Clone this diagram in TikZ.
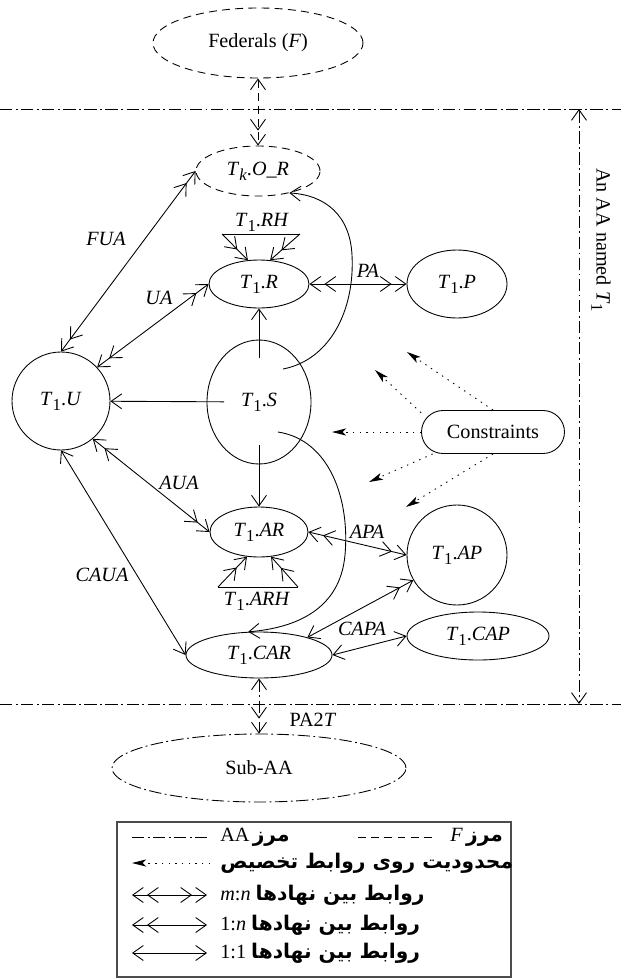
\documentclass[tikz,border=0pt]{standalone}
\usepackage{fontspec}
\setmainfont{Liberation Serif}
\newfontfamily\prs[Script=Arabic,Scale=1.0]{DejaVu Sans}
\TeXXeTstate=1
\usetikzlibrary{arrows.meta,shapes.geometric,decorations.markings}

\newcommand\Tn{\textit{T}\raisebox{-0.55ex}{\fontsize{9.5}{10}\selectfont 1}}
\newcommand\Tk{\textit{T}\raisebox{-0.55ex}{\fontsize{9.5}{10}\selectfont\textit{k}}}

\tikzset{
  barb/.tip={Straight Barb[length=6pt,width=8.5pt]},
  ent/.style={ellipse,draw,inner sep=0pt},
  endtwo/.style={postaction={decorate,decoration={markings,
      mark=at position -0.3cm with {\arrow{barb}}}}},
  starttwo/.style={postaction={decorate,decoration={markings,
      mark=at position 0.3cm with {\arrowreversed{barb}}}}},
  oo/.style={barb-barb},
  on/.style={barb-barb,endtwo},
  mn/.style={barb-barb,endtwo,starttwo},
  fdash/.style={dash pattern=on 4.5pt off 3pt},
  aadash/.style={dash pattern=on 7pt off 2pt on 1pt off 2pt},
  cons/.style={dash pattern=on 0.8pt off 3pt,-{Stealth[length=8pt,width=4pt,inset=2pt]}},
}

\begin{document}
\begin{tikzpicture}[x=0.2mm,y=-0.2mm,line width=0.5pt,
  every node/.style={font=\fontsize{11.5}{13}\selectfont}]
  \useasboundingbox (0,0) rectangle (621,978);
  \node[ent,fdash,minimum width=4.2cm,minimum height=1.4cm] (F) at (258,43) {Federals (\textit{F})};
  \node[ent,fdash,minimum width=2.48cm,minimum height=1cm] (K) at (258,171) {\Tk.\textit{O\_R}};
  \node[ent,minimum width=2cm,minimum height=0.96cm] (R) at (259,284) {\Tn.\textit{R}};
  \node[ent,minimum width=2cm,minimum height=1.36cm] (P) at (457,284) {\Tn.\textit{P}};
  \node[circle,draw,inner sep=0pt,minimum size=1.96cm] (U) at (61,401) {\Tn.\textit{U}};
  \node[ent,minimum width=2.08cm,minimum height=2.48cm] (S) at (259,402) {\Tn.\textit{S}};
  \node[draw,rounded corners=0.43cm,minimum width=2.86cm,minimum height=0.86cm] (C) at (493,432) {Constraints};
  \node[ent,minimum width=1.96cm,minimum height=1cm] (AR) at (259,532) {\Tn.\textit{AR}};
  \node[circle,draw,inner sep=0pt,minimum size=2cm] (AP) at (457,555) {\Tn.\textit{AP}};
  \node[ent,minimum width=2.92cm,minimum height=0.92cm] (CAR) at (259,655) {\Tn.\textit{CAR}};
  \node[ent,minimum width=2.84cm,minimum height=0.96cm] (CAP) at (478,636) {\Tn.\textit{CAP}};
  \node[ent,aadash,minimum width=5.88cm,minimum height=1.36cm] (Sub) at (259,768) {Sub-AA};

  \coordinate (b1) at (0,109);
  \coordinate (b2) at (621,109);
  \coordinate (b3) at (0,704);
  \coordinate (b4) at (621,704);
  \draw[aadash] (b1) -- (b2);
  \draw[aadash] (b3) -- (b4);
  \coordinate (d1) at (579,109);
  \coordinate (d2) at (579,704);
  \draw[oo,aadash] (d1) -- (d2);
  \node[rotate=-90] (nm) at (601,240) {An AA named \Tn};

  \draw[on,fdash] (F) -- (K);
  \draw[mn] (U.north) -- (K.west);
  \draw[mn] (U.43) -- (R.west);
  \draw[mn] (U.-50) -- (AR.west);
  \draw[oo] (U.south) -- (CAR.west);
  \draw[-barb,shorten <=0.7cm] (S.center) -- (U);
  \draw[-barb,shorten <=0.88cm] (S.center) -- (R);
  \draw[-barb,shorten <=0.86cm] (S.center) -- (AR);
  \draw[mn] (R) -- (P);
  \draw[mn] (AR.east) -- (AP.west);
  \draw[on] (CAR.20) -- (AP.210);
  \draw[oo] (CAR.east) -- (CAP.west);
  \draw[on,aadash] (CAR) -- (Sub);
  \draw[-barb] ([shift={(24,-33)}]S.center) .. controls (330,360) and (355,310) .. (352,255)
    .. controls (350,215) and (325,195) .. (K.-35);
  \draw[-barb] ([shift={(19,30)}]S.center) .. controls (330,440) and (350,500) .. (345,555)
    .. controls (340,610) and (295,628) .. (CAR.115);

  \coordinate (rh1) at (222,234);
  \coordinate (rh2) at (300,234);
  \draw (rh1) -- (rh2);
  \draw[-barb,endtwo] (rh1) -- (R.115);
  \draw[-barb,endtwo] (rh2) -- (R.65);
  \node (rh) at (262,222) {\Tn.\textit{RH}};
  \coordinate (arh1) at (218,587);
  \coordinate (arh2) at (298,587);
  \draw (arh1) -- (arh2);
  \draw[-barb,endtwo] (arh1) -- (AR.-116);
  \draw[-barb,endtwo] (arh2) -- (AR.-64);
  \node (arh) at (257,601) {\Tn.\textit{ARH}};

  \coordinate (c1) at (407,352);
  \coordinate (c2) at (375,370);
  \coordinate (c3) at (332,432);
  \coordinate (c4) at (369,482);
  \coordinate (c5) at (406,507);
  \draw[cons] (C.north) -- (c1);
  \draw[cons] (C.165) -- (c2);
  \draw[cons] (C.west) -- (c3);
  \draw[cons] (C.200) -- (c4);
  \draw[cons] (C.south) -- (c5);

  \node (fua) at (106,239) {\textit{FUA}};
  \node (ua) at (159,298) {\textit{UA}};
  \node (pa) at (368,271) {\textit{PA}};
  \node (aua) at (179,483) {\textit{AUA}};
  \node (apa) at (367,532) {\textit{APA}};
  \node (caua) at (102,575) {\textit{CAUA}};
  \node (capa) at (362,629) {\textit{CAPA}};
  \node (pa2t) at (313,720) {PA2\textit{T}};

  \draw[line width=1pt,black!70] (117,822) rectangle (511,977);
  \draw[aadash] (132,837) -- (207,837);
  \node[anchor=west] (l1) at (214,837) {\beginR{\prs\bfseries مرز}\,\beginL AA\endL\endR};
  \draw[fdash] (358,837) -- (432,837);
  \node[anchor=west] (l2) at (444,837) {\beginR{\prs\bfseries مرز}\,\beginL\textit{F}\endL\endR};
  \draw[cons] (210,863) -- (132,863);
  \node[anchor=west] (l3) at (214,863) {\prs\bfseries\beginR محدودیت روی روابط تخصیص\endR};
  \draw[mn] (132,895) -- (207,895);
  \node[anchor=west] (l4) at (214,895) {\beginR{\prs\bfseries روابط بین نهادها}\ \beginL\textit{m}:\textit{n}\endL\endR};
  \draw[on] (207,925) -- (132,925);
  \node[anchor=west] (l5) at (214,925) {\beginR{\prs\bfseries روابط بین نهادها}\ \beginL 1:\textit{n}\endL\endR};
  \draw[oo] (132,953) -- (207,953);
  \node[anchor=west] (l6) at (214,953) {\beginR{\prs\bfseries روابط بین نهادها}\ \beginL 1:1\endL\endR};
\end{tikzpicture}
\end{document}
